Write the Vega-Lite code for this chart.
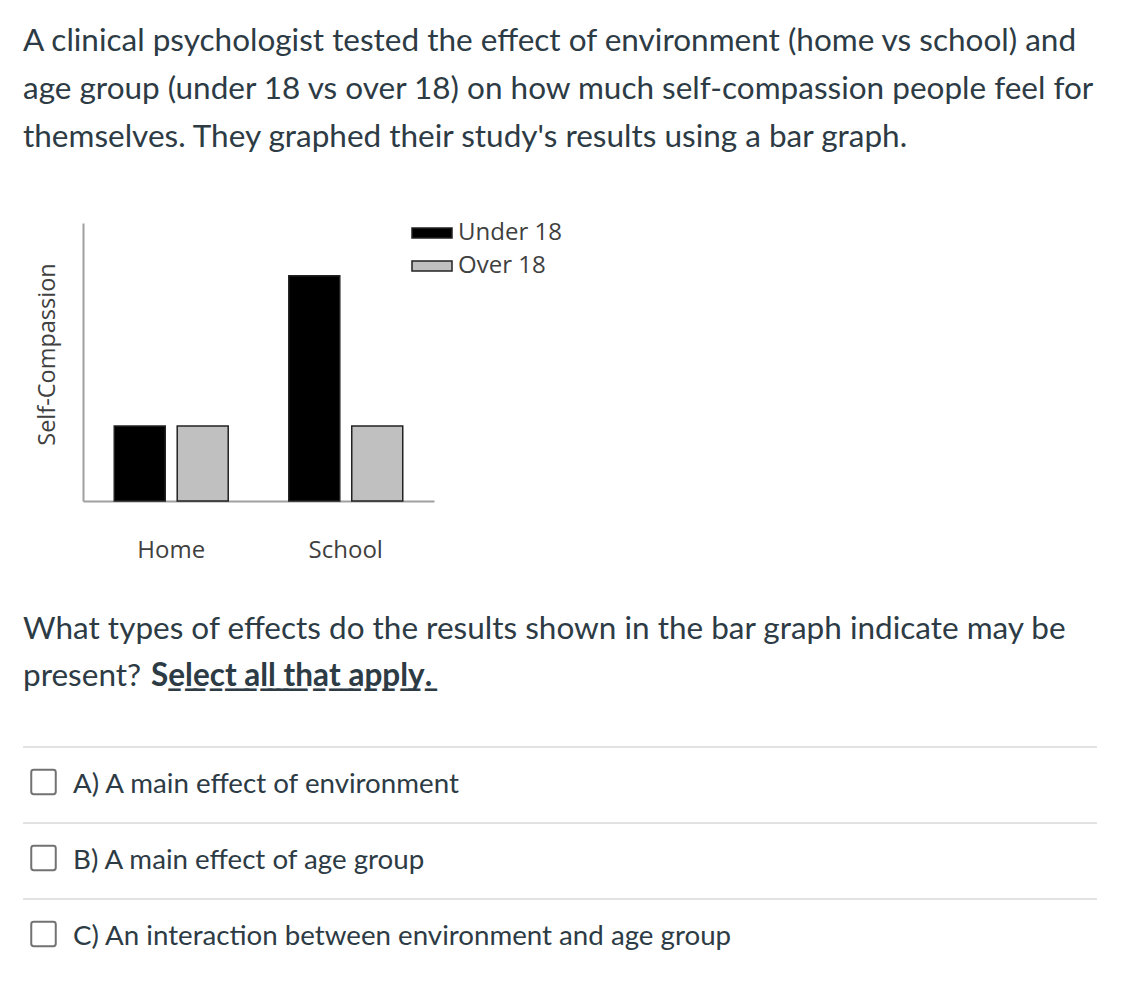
{
  "$schema": "https://vega.github.io/schema/vega-lite/v6.json",
  "padding": {"left": 22, "top": 0, "right": 0, "bottom": 0},
  "background": "white",
  "bounds": "flush",
  "spacing": 55,
  "config": {"view": {"stroke": null}, "font": "Lato"},
  "datasets": {
    "intro": [
      {"line": "1", "text": "A clinical psychologist tested the effect of environment (home vs school) and"},
      {"line": "2", "text": "age group (under 18 vs over 18) on how much self-compassion people feel for"},
      {"line": "3", "text": "themselves. They graphed their study's results using a bar graph."}
    ],
    "bars": [
      {"environment": "Home", "age": "Under 18", "value": 2.7},
      {"environment": "Home", "age": "Over 18", "value": 2.7},
      {"environment": "School", "age": "Under 18", "value": 8.1},
      {"environment": "School", "age": "Over 18", "value": 2.7}
    ],
    "question": [
      {"line": "1", "text": "What types of effects do the results shown in the bar graph indicate may be"},
      {"line": "2", "text": "present?"}
    ],
    "emphasis": [
      {"line": "2", "text": "S\u0332e\u0332l\u0332e\u0332c\u0332t\u0332 \u0332a\u0332l\u0332l\u0332 \u0332t\u0332h\u0332a\u0332t\u0332 \u0332a\u0332p\u0332p\u0332l\u0332y\u0332."}
    ],
    "options": [
      {"option": "A", "text": "A) A main effect of environment"},
      {"option": "B", "text": "B) A main effect of age group"},
      {"option": "C", "text": "C) An interaction between environment and age group"}
    ]
  },
  "vconcat": [
    {
      "width": 1074,
      "height": 168,
      "data": {"name": "intro"},
      "mark": {"type": "text", "align": "left", "baseline": "middle", "fontSize": 31.5, "color": "#2d3b45", "font": "Lato", "dy": 2.5},
      "encoding": {
        "y": {"field": "line", "type": "ordinal", "axis": null, "scale": {"type": "band", "paddingInner": 0, "paddingOuter": 0.268, "align": 0.637}},
        "x": {"value": 0},
        "text": {"field": "text"}
      }
    },
    {
      "width": 411,
      "height": 278,
      "data": {"name": "bars"},
      "mark": {"type": "bar", "stroke": "#222222", "strokeWidth": 1.5},
      "encoding": {
        "x": {
          "field": "environment", "type": "nominal", "sort": ["Home", "School"],
          "scale": {"range": [60, 411], "paddingInner": 0.347, "paddingOuter": 0.179},
          "axis": {"title": null, "domainColor": "#a0a0a0", "domainWidth": 2, "ticks": false, "labelAngle": 0,
                   "labelFont": "Open Sans", "labelFontSize": 24, "labelColor": "#404040", "labelPadding": 37, "labelBaseline": "top"}
        },
        "xOffset": {"field": "age", "sort": ["Under 18", "Over 18"], "scale": {"paddingInner": 0.19}},
        "y": {
          "field": "value", "type": "quantitative", "scale": {"domain": [0, 10]},
          "axis": {"title": "Self-Compassion", "offset": -60, "domainColor": "#a0a0a0", "domainWidth": 2, "ticks": false,
                   "labels": false, "grid": false, "titleFont": "Open Sans", "titleFontSize": 23.5, "titleFontWeight": "normal",
                   "titleColor": "#404040", "titlePadding": 24, "titleY": 131}
        },
        "color": {
          "field": "age", "type": "nominal",
          "scale": {"domain": ["Under 18", "Over 18"], "range": ["#000000", "#c0c0c0"]},
          "legend": {"title": null, "orient": "none", "legendX": 388, "legendY": 212, "padding": 0,
                     "symbolType": "M-1,-0.25H1V0.25H-1Z", "symbolSize": 1600, "symbolStrokeColor": "#222222",
                     "symbolStrokeWidth": 1.5, "labelFont": "Open Sans", "labelFontSize": 24, "labelColor": "#404040",
                     "labelOffset": 5, "rowPadding": 0}
        }
      }
    },
    {
      "bounds": "flush",
      "spacing": 0,
      "vconcat": [
        {
          "width": 1074,
          "height": 188,
          "layer": [
            {
              "data": {"name": "question"},
              "mark": {"type": "text", "align": "left", "baseline": "middle", "fontSize": 31.5, "color": "#2d3b45", "font": "Lato", "dy": 1.5},
              "encoding": {
                "y": {"field": "line", "type": "ordinal", "axis": null, "scale": {"type": "band", "paddingInner": 0, "paddingOuter": 1, "align": 0.516}},
                "x": {"value": 0},
                "text": {"field": "text"}
              }
            },
            {
              "data": {"name": "emphasis"},
              "mark": {"type": "text", "align": "left", "baseline": "middle", "fontSize": 31.5, "fontWeight": "bold", "color": "#2d3b45", "font": "Lato", "dx": 128, "dy": 1.5},
              "encoding": {
                "y": {"field": "line", "type": "ordinal", "axis": null},
                "x": {"value": 0},
                "text": {"field": "text"}
              }
            }
          ]
        },
        {
          "width": 1074,
          "height": 228,
          "data": {"name": "options"},
          "encoding": {
            "y": {"field": "option", "type": "ordinal", "axis": null, "scale": {"type": "band", "paddingInner": 0, "paddingOuter": 0}}
          },
          "layer": [
            {
              "mark": {"type": "rule", "color": "#d9d9d9", "strokeWidth": 1.5},
              "encoding": {"y": {"field": "option", "type": "ordinal", "bandPosition": 0.04}}
            },
            {
              "mark": {"type": "point", "shape": "M-0.8,-1H0.8A0.2,0.2 0 0 1 1,-0.8V0.8A0.2,0.2 0 0 1 0.8,1H-0.8A0.2,0.2 0 0 1 -1,0.8V-0.8A0.2,0.2 0 0 1 -0.8,-1Z",
                       "size": 600, "filled": false, "stroke": "#727272", "strokeWidth": 2, "opacity": 1},
              "encoding": {"x": {"value": 20.5}}
            },
            {
              "mark": {"type": "text", "align": "left", "baseline": "middle", "fontSize": 27.7, "color": "#2d3b45", "font": "Lato", "dy": 3},
              "encoding": {"x": {"value": 50}, "text": {"field": "text"}}
            }
          ]
        }
      ]
    }
  ]
}
